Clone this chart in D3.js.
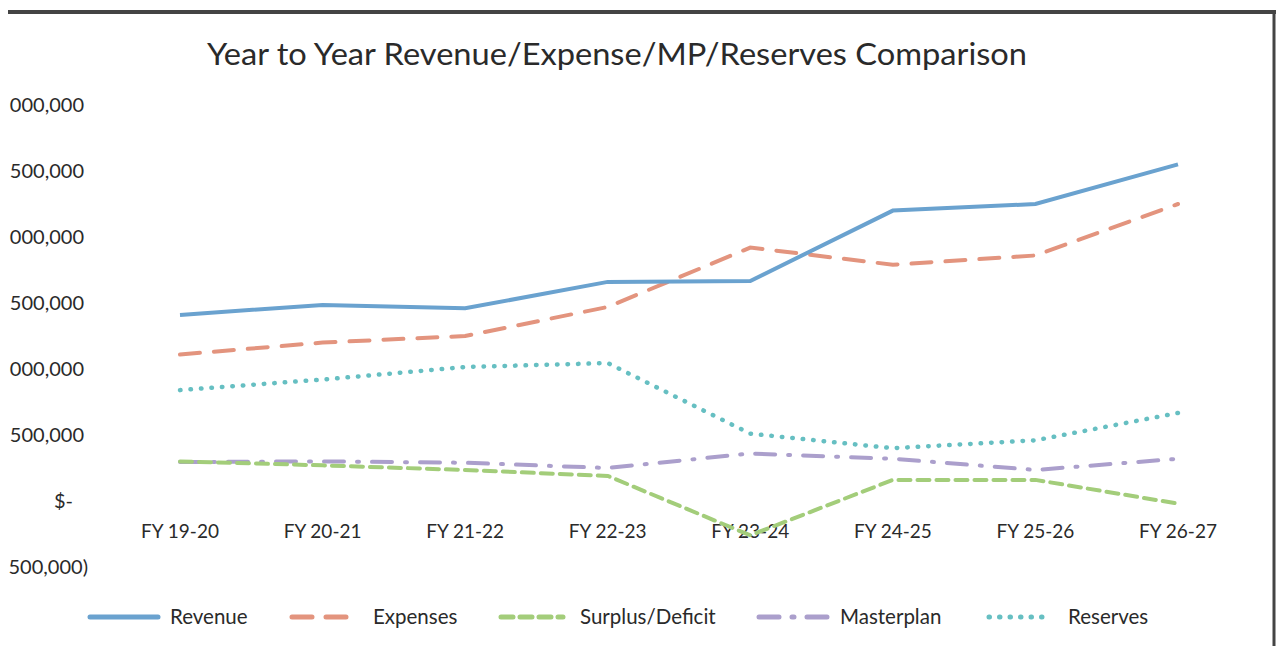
<!DOCTYPE html>
<html>
<head>
    <script src="https://d3js.org/d3.v7.min.js"></script>
    <style>
        body { margin: 0; background: #fff; }
        text { font-family: Lato, "Open Sans", sans-serif; fill: #2a2a2a; }
    </style>
</head>
<body>
    <div id="chart"></div>
    <script>
        // data
        var years = ["FY 19-20", "FY 20-21", "FY 21-22", "FY 22-23", "FY 23-24", "FY 24-25", "FY 25-26", "FY 26-27"];
        var revenue = [1410000, 1485000, 1460000, 1660000, 1667000, 2200000, 2250000, 2550000];
        var expenses = [1110000, 1200000, 1250000, 1470000, 1920000, 1790000, 1860000, 2250000];
        var surplus = [300000, 270000, 235000, 190000, -260000, 160000, 160000, -20000];
        var masterplan = [295000, 300000, 290000, 250000, 360000, 320000, 235000, 320000];
        var reserves = [840000, 920000, 1015000, 1045000, 510000, 400000, 460000, 667000];

        var tickValues = [-500000, 0, 500000, 1000000, 1500000, 2000000, 2500000, 3000000];
        var tickLabels = ["500,000)", "$-", "500,000", "000,000", "500,000", "000,000", "500,000", "000,000"];

        var series = [
            { name: "Revenue", values: revenue, color: "#6aa2cf", dash: null },
            { name: "Expenses", values: expenses, color: "#e3947e", dash: "20,14" },
            { name: "Surplus/Deficit", values: surplus, color: "#a3cd7a", dash: "12,7" },
            { name: "Masterplan", values: masterplan, color: "#ab9fcc", dash: "20,13,2,13" },
            { name: "Reserves", values: reserves, color: "#66bfc2", dash: "0.5,10" }
        ];

        async function program() {
            var width = 1278,
                height = 649;

            var svg = d3.select("#chart")
                .append("svg")
                .attr("width", width)
                .attr("height", height);

            // frame edges (scanned border)
            svg.append("line").attr("x1", 8).attr("x2", 1276).attr("y1", 12).attr("y2", 12)
                .style("stroke", "#444").style("stroke-width", 4);
            svg.append("line").attr("x1", 1274).attr("x2", 1274).attr("y1", 10).attr("y2", 646)
                .style("stroke", "#444").style("stroke-width", 3);

            svg.append("text")
                .attr("x", 617).attr("y", 65)
                .attr("text-anchor", "middle")
                .style("font-size", "31px")
                .attr("textLength", 820)
                .attr("lengthAdjust", "spacingAndGlyphs")
                .text("Year to Year Revenue/Expense/MP/Reserves Comparison");

            var x = d3.scalePoint()
                .domain(years)
                .range([180, 1178]);

            var y = d3.scaleLinear()
                .domain([-500000, 3000000])
                .range([567, 105]);

            // y tick labels (left part cut off in the original)
            svg.append("g")
                .selectAll("text")
                .data(tickValues)
                .join("text")
                .attr("x", function (d) { return d < 0 ? 88 : (d == 0 ? 73 : 84); })
                .attr("y", function (d) { return y(d) + 7; })
                .attr("text-anchor", "end")
                .style("font-size", "20px")
                .text(function (d, i) { return tickLabels[i]; });

            svg.append("g")
                .selectAll("text")
                .data(years)
                .join("text")
                .attr("x", function (d) { return x(d); })
                .attr("y", 538)
                .attr("text-anchor", "middle")
                .style("font-size", "19px")
                .text(function (d) { return d; });

            var line = d3.line()
                .x(function (d, i) { return x(years[i]); })
                .y(function (d) { return y(d); });

            svg.append("g")
                .selectAll("path")
                .data(series.slice().reverse())
                .join("path")
                .attr("d", function (d) { return line(d.values); })
                .style("fill", "none")
                .style("stroke", function (d) { return d.color; })
                .style("stroke-width", function (d) { return d.name == "Reserves" ? 4.5 : 4; })
                .style("stroke-linecap", function (d) { return d.dash ? "round" : "butt"; })
                .style("stroke-dasharray", function (d) { return d.dash; });

            // legend
            var legX = [90, 292, 501, 759, 989];
            var legLen = [68, 64, 62, 70, 59];
            var legText = [170, 373, 580, 840, 1068];
            var leg = svg.append("g")
                .selectAll("g")
                .data(series)
                .join("g");
            leg.append("line")
                .attr("x1", function (d, i) { return legX[i]; })
                .attr("x2", function (d, i) { return legX[i] + legLen[i]; })
                .attr("y1", 617).attr("y2", 617)
                .style("stroke", function (d) { return d.color; })
                .style("stroke-width", 5)
                .style("stroke-linecap", "round")
                .style("stroke-dasharray", function (d) { return d.dash; });
            leg.append("text")
                .attr("x", function (d, i) { return legText[i]; })
                .attr("y", 624)
                .style("font-size", "20.5px")
                .text(function (d) { return d.name; });
        }

        program();
    </script>
</body>
</html>
